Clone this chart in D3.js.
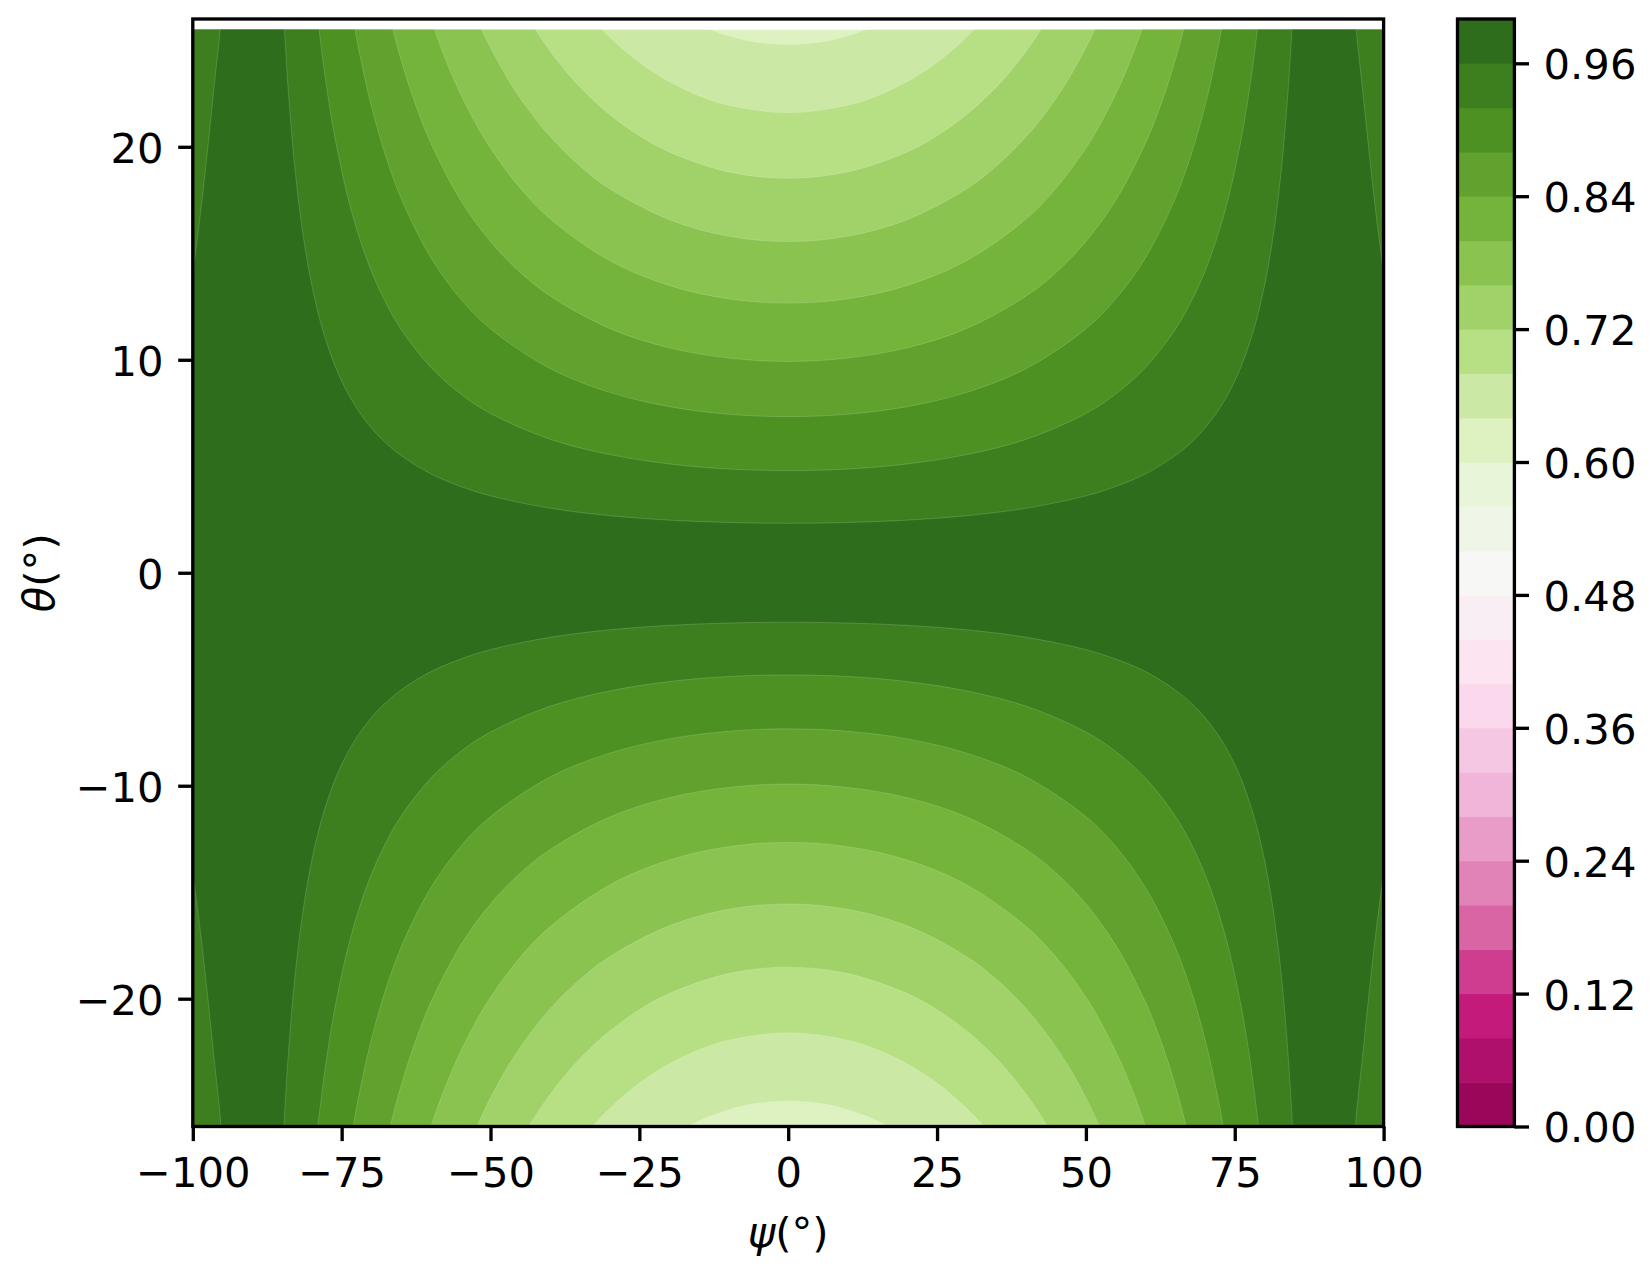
<!DOCTYPE html>
<html><head><meta charset="utf-8">
<script src="https://cdn.jsdelivr.net/npm/d3@7"></script>
<style>
body{margin:0;background:#fff}
svg{display:block}
text{font-family:"DejaVu Sans",sans-serif;fill:#000}
</style>
</head><body>
<svg id="chart" width="1652" height="1273"></svg>
<script>
// ---- data ----
const levels = [0.64, 0.68, 0.72, 0.76, 0.80, 0.84, 0.88, 0.92, 0.96];
// contour positions in the quadrant psi>=0, theta>=0 (figure is symmetric in psi and theta)
const contourPsi = [
  [0,5,8,10,13,15,17],
  [0,10,15,20,24,27,30,32,32.9],
  [0,10,20,25,30,35,38,41,43,43.6],
  [0,10,20,30,35,40,44,47,50,52,52.3],
  [0,10,20,30,40,45,50,53,56,58,59,60],
  [0,10,20,30,40,45,50,55,60,62,64,66,66.85],
  [0,10,20,30,40,50,55,60,65,68,70,71,72,72.5,73.08],
  [0,10,20,30,40,50,55,60,65,68,70,72,74,76,77,78,79],
  [0,10,20,30,40,50,55,60,65,68,70,72,74,76,78,79,80,81,82,83,84,84.5,84.7]
];
const contourTheta = [
  [24.8,24.9,25.06,25.21,25.5,25.74,26.0],
  [21.6,21.95,22.4,23.06,23.76,24.4,25.16,25.73,26.0],
  [18.52,18.82,19.76,20.52,21.52,22.81,23.77,24.89,25.74,26.0],
  [15.55,15.8,16.58,18.03,19.1,20.48,21.88,23.14,24.65,25.81,26.0],
  [12.66,12.86,13.49,14.66,16.62,18.05,19.93,21.36,23.07,24.43,25.18,26.0],
  [9.92,10.08,10.56,11.47,13.0,14.1,15.55,17.48,20.16,21.53,23.14,25.06,26.0],
  [7.33,7.44,7.8,8.47,9.59,11.45,12.85,14.78,17.57,19.91,21.9,23.07,24.39,25.1,26.0],
  [4.8,4.87,5.11,5.55,6.27,7.48,8.39,9.64,11.42,12.91,14.16,15.71,17.67,20.24,21.84,23.73,26.0],
  [2.32,2.36,2.47,2.68,3.03,3.61,4.05,4.64,5.5,6.2,6.8,7.53,8.45,9.63,11.23,12.25,13.48,15.0,16.91,19.4,22.78,24.98,26.0]
];
// second branch of the 0.96 contour near the psi = +/-100 edges
const edgePsi   = [95.3, 95.4, 96.5, 97.5, 98.7, 100];
const edgeTheta = [26.0, 25.5, 22.6, 19.9, 16.9, 14.1];
const edgeLevel = 0.96;
const backgroundLevel = 0.60;
const psiDomain = [-100, 100];
const thetaDomain = [-26, 26];
const dataThetaRange = [-26, 25.5];
const xTicks = [-100, -75, -50, -25, 0, 25, 50, 75, 100];
const yTicks = [-20, -10, 0, 10, 20];
const cbLevels = [0,0.04,0.08,0.12,0.16,0.20,0.24,0.28,0.32,0.36,0.40,0.44,0.48,0.52,0.56,0.60,0.64,0.68,0.72,0.76,0.80,0.84,0.88,0.92,0.96,1.00];
const cbTicks = [0, 0.12, 0.24, 0.36, 0.48, 0.60, 0.72, 0.84, 0.96];
const piygAnchors = ["#8e0152","#c51b7d","#de77ae","#f1b6da","#fde0ef","#f7f7f7","#e6f5d0","#b8e186","#7fbc41","#4d9221","#276419"];

// ---- layout ----
const FS = 41.7, LW = 3.33, TL = 14.6, PAD = 14.6;
const plot = {l: 192.8, r: 1383.6, t: 19, b: 1126.5};
const cb = {l: 1457.5, r: 1514.4, t: 19, b: 1126.5};

const piygScale = d3.scaleLinear()
  .domain(piygAnchors.map((_, i) => i / (piygAnchors.length - 1)))
  .range(piygAnchors).interpolate(d3.interpolateRgb);
const piyg = v => piygScale(Math.min(255, Math.floor(v * 256)) / 255);

const svg = d3.select("#chart");
const x = d3.scaleLinear().domain(psiDomain).range([plot.l, plot.r]);
const y = d3.scaleLinear().domain(thetaDomain).range([plot.b, plot.t]);

svg.append("defs").append("clipPath").attr("id", "dataClip")
  .append("rect")
  .attr("x", x(psiDomain[0])).attr("y", y(dataThetaRange[1]))
  .attr("width", x(psiDomain[1]) - x(psiDomain[0]))
  .attr("height", y(dataThetaRange[0]) - y(dataThetaRange[1]));

const g = svg.append("g").attr("clip-path", "url(#dataClip)");
g.append("rect")
  .attr("x", plot.l).attr("y", plot.t)
  .attr("width", plot.r - plot.l).attr("height", plot.b - plot.t)
  .attr("fill", piyg(backgroundLevel + 0.02));

const lineGen = d3.line().x(d => x(d[0])).y(d => y(d[1])).curve(d3.curveCatmullRom.alpha(0.5));

function upperPieces(i) {
  const P = contourPsi[i].map((p, k) => [p, contourTheta[i][k]]);
  const contour = [...P.slice(1).reverse().map(([p, t]) => [-p, t]), ...P];
  const end = P[P.length - 1][0];
  if (levels[i] === edgeLevel) {
    const E = edgePsi.map((p, k) => [p, edgeTheta[k]]);
    const leftEdge = E.slice().reverse().map(([p, t]) => [-p, t]);
    return [leftEdge, contour, E];
  }
  return [[[psiDomain[0], thetaDomain[1]], [-end, thetaDomain[1]]], contour,
          [[end, thetaDomain[1]], [psiDomain[1], thetaDomain[1]]]];
}

function regionPath(i) {
  const up = upperPieces(i);
  const low = up.slice().reverse().map(pc => pc.slice().reverse().map(([p, t]) => [p, -t]));
  let d = "";
  [...up, ...low].forEach(pc => {
    if (pc.length === 2 && pc[0][1] === pc[1][1] && Math.abs(pc[0][1]) === thetaDomain[1]) {
      d += (d ? "L" : "M") + x(pc[0][0]) + "," + y(pc[0][1]) + "L" + x(pc[1][0]) + "," + y(pc[1][1]);
    } else {
      const s = lineGen(pc);
      d += d ? "L" + s.slice(1) : s;
    }
  });
  return d + "Z";
}

levels.forEach((L, i) => {
  g.append("path")
    .attr("d", regionPath(i))
    .attr("fill", piyg(L + 0.02))
    .attr("stroke", "rgba(255,255,255,0.16)")
    .attr("stroke-width", 1);
});

// ---- axes ----
const xAxis = d3.axisBottom(x).tickValues(xTicks).tickSize(TL).tickPadding(PAD)
  .tickFormat(d => d < 0 ? "\u2212" + Math.abs(d) : String(d));
const xg = svg.append("g").attr("transform", `translate(0,${plot.b})`).call(xAxis);
const yAxis = d3.axisLeft(y).tickValues(yTicks).tickSize(TL).tickPadding(PAD)
  .tickFormat(d => d < 0 ? "\u2212" + Math.abs(d) : String(d));
const yg = svg.append("g").attr("transform", `translate(${plot.l},0)`).call(yAxis);
[xg, yg].forEach(a => {
  a.select(".domain").remove();
  a.selectAll(".tick line").attr("stroke", "#000").attr("stroke-width", LW);
  a.selectAll(".tick text").attr("font-size", FS).attr("font-family", "DejaVu Sans").attr("fill", "#000");
});
xg.selectAll(".tick text").attr("dy", "0.76em");
yg.selectAll(".tick text").attr("dy", "0.37em");

svg.append("rect")
  .attr("x", plot.l).attr("y", plot.t)
  .attr("width", plot.r - plot.l).attr("height", plot.b - plot.t)
  .attr("fill", "none").attr("stroke", "#000").attr("stroke-width", LW);

// axis labels
const xl = svg.append("text").attr("x", (plot.l + plot.r) / 2).attr("y", 1247)
  .attr("text-anchor", "middle").attr("font-size", FS);
xl.append("tspan").attr("font-style", "italic").text("\u03c8");
xl.append("tspan").text("(\u00b0)");
const yl = svg.append("text").attr("transform", `translate(54,${(plot.t + plot.b) / 2}) rotate(-90)`)
  .attr("text-anchor", "middle").attr("font-size", FS);
yl.append("tspan").attr("font-style", "italic").text("\u03b8");
yl.append("tspan").text("(\u00b0)");

// ---- colorbar ----
const cy = d3.scaleLinear().domain([cbLevels[0], cbLevels[cbLevels.length - 1]]).range([cb.b, cb.t]);
const cbg = svg.append("g");
cbLevels.slice(0, -1).forEach((v, i) => {
  const v2 = cbLevels[i + 1];
  cbg.append("rect")
    .attr("x", cb.l).attr("width", cb.r - cb.l)
    .attr("y", cy(v2)).attr("height", cy(v) - cy(v2) + 0.6)
    .attr("fill", piyg((v + v2) / 2));
});
cbg.append("rect").attr("x", cb.l).attr("y", cb.t)
  .attr("width", cb.r - cb.l).attr("height", cb.b - cb.t)
  .attr("fill", "none").attr("stroke", "#000").attr("stroke-width", LW);
const cAxis = d3.axisRight(cy).tickValues(cbTicks).tickSize(TL).tickPadding(PAD).tickFormat(d3.format(".2f"));
const cag = svg.append("g").attr("transform", `translate(${cb.r},0)`).call(cAxis);
cag.select(".domain").remove();
cag.selectAll(".tick line").attr("stroke", "#000").attr("stroke-width", LW);
cag.selectAll(".tick text").attr("font-size", FS).attr("font-family", "DejaVu Sans").attr("fill", "#000").attr("dy", "0.37em");
</script>
</body></html>
